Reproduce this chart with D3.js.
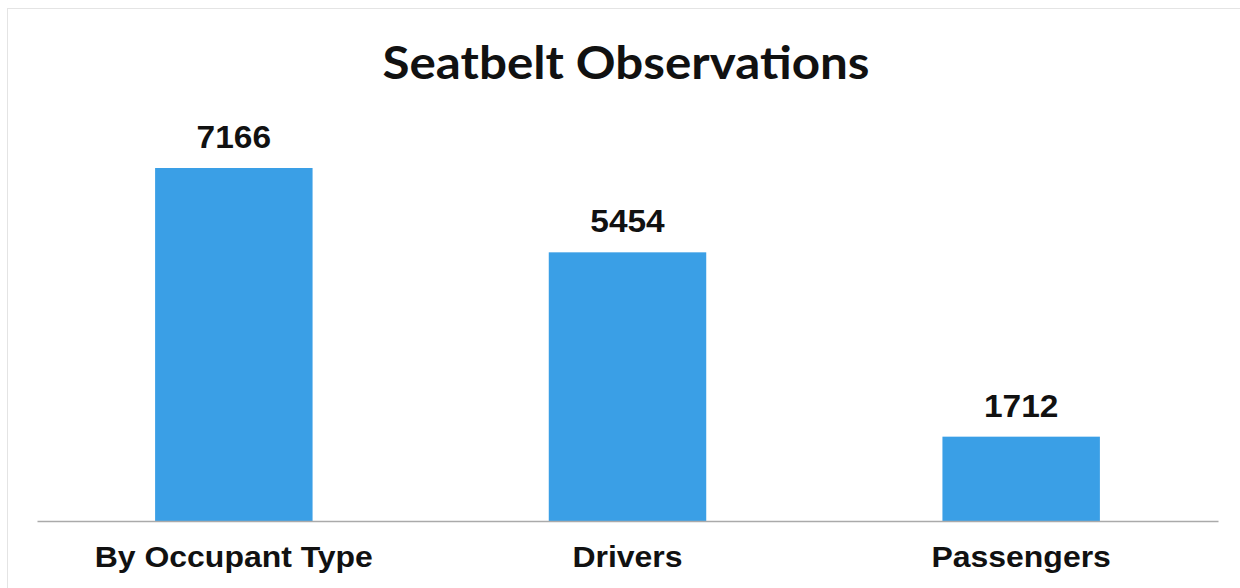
<!DOCTYPE html>
<html><head><meta charset="utf-8">
<script src="https://cdn.jsdelivr.net/npm/d3@7"></script>
<style>html,body{margin:0;padding:0;background:#fff;}svg{display:block;}</style>
</head><body>
<svg id="chart" width="1240" height="588"></svg>
<script>
const categories = ["By Occupant Type", "Drivers", "Passengers"];
const values = [7166, 5454, 1712];
const title = "Seatbelt Observations";

const svg = d3.select("#chart");
const W = 1240, H = 588;
const baseY = 521;

// faint frame
svg.append("rect").attr("x", 7.5).attr("y", 8.5).attr("width", 1240).attr("height", 600)
  .attr("fill", "none").attr("stroke", "#e4e4e4").attr("stroke-width", 1);

const x = d3.scaleBand().domain(categories).range([37, 1218]).paddingInner(0.6).paddingOuter(0.3);
const y = d3.scaleLinear().domain([0, 7166]).range([baseY, 168]);

svg.append("text").attr("x", 626).attr("y", 79).attr("text-anchor", "middle")
  .attr("font-family", "Lato, 'Open Sans', sans-serif").attr("font-weight", "bold")
  .attr("font-size", 46).attr("fill", "#111")
  .attr("textLength", 487).attr("lengthAdjust", "spacingAndGlyphs").text(title);

svg.selectAll("rect.bar").data(values).join("rect").attr("class", "bar")
  .attr("x", (d, i) => x(categories[i]))
  .attr("width", x.bandwidth())
  .attr("y", d => y(d))
  .attr("height", d => baseY - y(d))
  .attr("fill", "#3a9fe6");

svg.selectAll("text.val").data(values).join("text").attr("class", "val")
  .attr("x", (d, i) => x(categories[i]) + x.bandwidth() / 2)
  .attr("y", d => y(d) - 20)
  .attr("text-anchor", "middle")
  .attr("font-family", "'Liberation Sans', Arial, sans-serif").attr("font-weight", "bold")
  .attr("font-size", 31).attr("fill", "#111")
  .attr("transform", (d, i) => { const cx = x(categories[i]) + x.bandwidth() / 2; return `translate(${cx},0) scale(1.08,1) translate(${-cx},0)`; })
  .text(d => d);

const axis = d3.axisBottom(x).tickSize(0).tickPadding(25);
const g = svg.append("g").attr("transform", `translate(0,${baseY})`).call(axis);
g.select(".domain").attr("stroke", "#aaa").attr("stroke-width", 1.5);
g.selectAll(".tick text").attr("font-family", "'Liberation Sans', Arial, sans-serif")
  .attr("font-weight", "bold").attr("font-size", 30).attr("fill", "#111")
  .attr("transform", "scale(1.065,1)");
</script>
</body></html>
